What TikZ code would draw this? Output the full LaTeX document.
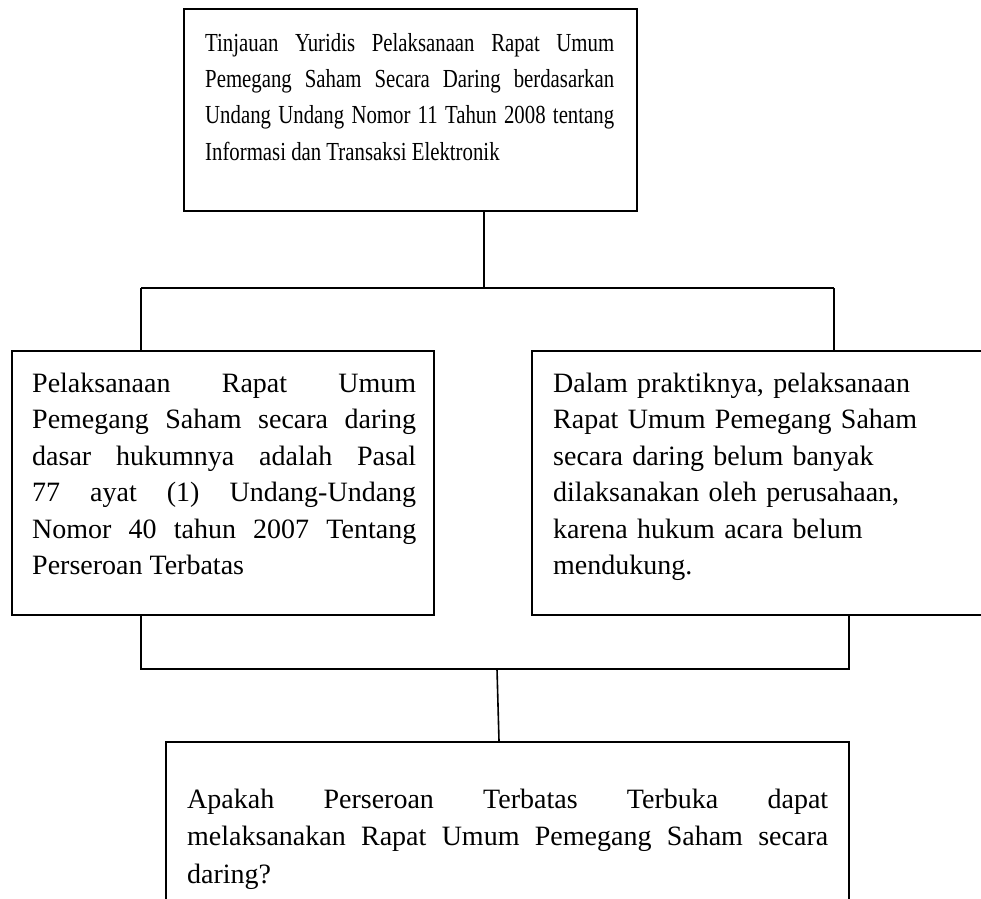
\documentclass[tikz,border=0pt]{standalone}
\usepackage{fontspec}
\setmainfont{Liberation Serif}
\newfontfamily\topfnt[FakeStretch=0.8]{Liberation Serif}
\begin{document}
\begin{tikzpicture}[x=1pt,y=-1pt,
  box/.style={draw, line width=1.6pt, inner sep=0pt, anchor=north west},
  conn/.style={line width=1.6pt},
  txtj/.style={inner sep=0pt, anchor=north west, align=justify},
  txtl/.style={inner sep=0pt, anchor=north west, align=left},
  bigfont/.style={font=\fontsize{28}{36.5}\selectfont},
  botfont/.style={font=\fontsize{28}{37.5}\selectfont},
  topfont/.style={font=\topfnt\fontsize{26}{36.3}\selectfont}]
\useasboundingbox (0,0) rectangle (981,898);
\clip (0,0) rectangle (981,898);
% boxes
\node[box, minimum width=453pt, minimum height=202pt] (top) at (183,8) {};
\node[box, minimum width=422pt, minimum height=264pt] (left) at (11,350) {};
\node[box, minimum width=480pt, minimum height=264pt] (right) at (531,350) {};
\node[box, minimum width=683pt, minimum height=200pt] (bottom) at (165,741) {};
% texts
\node[txtj, topfont, text width=409pt] (ttop) at (205,33) {\hyphenpenalty=10000
Tinjauan Yuridis Pelaksanaan Rapat Umum\linebreak
Pemegang Saham Secara Daring berdasarkan\linebreak
Undang Undang Nomor 11 Tahun 2008 tentang\linebreak
Informasi dan Transaksi Elektronik};
\node[txtj, bigfont, text width=384pt] (tleft) at (32,372.7) {\hyphenpenalty=10000
Pelaksanaan Rapat Umum\linebreak
Pemegang Saham secara daring\linebreak
dasar hukumnya adalah Pasal\linebreak
77 ayat (1) Undang-Undang\linebreak
Nomor 40 tahun 2007 Tentang\linebreak
Perseroan Terbatas};
\node[txtl, bigfont, text width=420pt] (tright) at (553,372.7) {Dalam praktiknya, pelaksanaan\\
Rapat Umum Pemegang Saham\\
secara daring belum banyak\\
dilaksanakan oleh perusahaan,\\
karena hukum acara belum\\
mendukung.};
\node[txtj, botfont, text width=641pt] (tbottom) at (187,788.5) {\hyphenpenalty=10000
Apakah Perseroan Terbatas Terbuka dapat\linebreak
melaksanakan Rapat Umum Pemegang Saham secara\linebreak
daring?};
% connectors
\coordinate (jt) at (484,288);
\coordinate (jl) at (141,288);
\coordinate (jr) at (834,288);
\coordinate (bl) at (141,669);
\coordinate (br) at (849,669);
\coordinate (bm) at (497,669);
\coordinate (bt) at (499,741);
\draw[conn] (top.south west -| jt) -- (jt);
\draw[conn] (jl) -- (jr);
\draw[conn] (jl) -- (left.north west -| jl);
\draw[conn] (jr) -- (right.north west -| jr);
\draw[conn] (left.south west -| bl) -- (bl) -- (br) -- (right.south west -| br);
\draw[conn] (bm) -- (bt);
\end{tikzpicture}
\end{document}
